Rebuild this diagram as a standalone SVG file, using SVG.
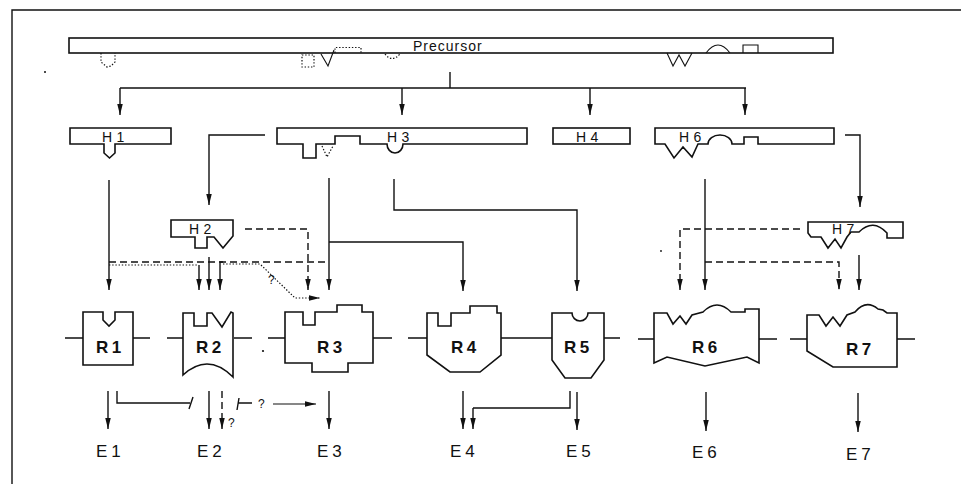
<svg xmlns="http://www.w3.org/2000/svg" width="961" height="484" viewBox="0 0 961 484">
<defs>
<style>
.bg{fill:#fff}
.box{fill:#fff;stroke:#111;stroke-width:1.6;stroke-linejoin:miter}
.ln{fill:none;stroke:#111;stroke-width:1.4}
.thin{fill:none;stroke:#111;stroke-width:1.1}
.dash{stroke-dasharray:7 4}
.dot{stroke-dasharray:1.4 1.8;stroke-width:1.2}
.arr{marker-end:url(#ah)}
.t{font-family:"Liberation Sans",Arial,sans-serif;fill:#111}
.h{font-size:14px;letter-spacing:4.5px}
.r{font-size:17px;font-weight:bold;letter-spacing:3.5px}
.e{font-size:17px;letter-spacing:4px}
.q{font-size:12px}
</style>
<marker id="ah" markerUnits="userSpaceOnUse" markerWidth="12" markerHeight="6" refX="11" refY="2.75" orient="auto">
<path d="M0,0 L11,2.75 L0,5.5 Z" fill="#111"/>
</marker>
</defs>
<rect class="bg" x="0" y="0" width="961" height="484"/>
<path class="ln" d="M12,484 V10 H961"/>
<g id="specks" fill="#111">
<circle cx="45" cy="72" r="1"/>
<circle cx="263" cy="351" r="1.1"/>
<circle cx="661" cy="251" r="0.9"/>
</g>

<g id="precursor">
<rect class="box" x="69" y="38" width="764" height="15"/>
<text class="t" x="413" y="50.5" style="font-size:14px;letter-spacing:1px">Precursor</text>
<path class="thin dot" d="M101,53 V62 L107,67 L111,66 L115,62 V53"/>
<rect class="thin dot" x="302" y="55" width="12" height="12"/>
<path class="thin" d="M321,54 L328,66 L334,50"/>
<path class="thin dot" d="M335,53 V47.5 H361 V53"/>
<path class="thin dot" d="M385,54 Q392,63 400,54"/>
<path class="thin" d="M667,53 L673,66 L679,55 L685,66 L692,53"/>
<path class="thin" d="M706,53 Q718,37 730,53"/>
<path class="thin" d="M743,53 V45 H758 V53"/>
</g>

<g id="H1">
<path class="box" d="M70,128 H171 V144 H115 V153 L109.5,158 L104,153 V144 H70 Z"/>
<text class="t h" x="102" y="142">H1</text>
</g>
<g id="H2">
<path class="box" d="M171,220 H233 V236 L223,248 L214,237 H207 V248 H195 V237 H171 Z"/>
<text class="t h" x="189" y="234">H2</text>
</g>
<g id="H3">
<path class="box" d="M277,128 H527 V144 H403 A8,9 0 0 1 387,144 H360 V136 H335 V144 H316 V158 H303 V144 H277 Z"/>
<path class="thin dot" d="M322,146 L327,157 L333,146"/>
<text class="t h" x="387" y="142">H3</text>
</g>
<g id="H4">
<rect class="box" x="553" y="128" width="77" height="16"/>
<text class="t h" x="576" y="142">H4</text>
</g>
<g id="H6">
<path class="box" d="M655,128 H834 V144 H758 V137 H744 V144 H732 A12,9 0 0 0 708,144 H698 L692,157 L683,147 L674,158 L665,144 H655 Z"/>
<text class="t h" x="679" y="142">H6</text>
</g>
<g id="H7">
<path class="box" d="M808,222 H903 V238 H887 V233 Q873,218 859,232 H851 L847,237 L841,248 L835,239 L828,248 L821,237 H811 L808,233 Z"/>
<text class="t h" x="832" y="234">H7</text>
</g>

<g id="R1">
<path class="box" d="M83,312 H103 V320 L109,326 L115,320 V312 H133 V365 H83 Z"/>
<text class="t r" x="96" y="353">R1</text>
</g>
<g id="R2">
<path class="box" d="M183,313 H194 V326 H207 V313 H212 L222,327 L231,312 L233,313 V377 Q208,352 183,375 Z"/>
<text class="t r" x="196" y="353">R2</text>
</g>
<g id="R3">
<path class="box" d="M285,312 H303 V325 H315 V312 H337 V305 H362 V312 H373 V363 H348 V372 H312 V363 H285 Z"/>
<text class="t r" x="317" y="353">R3</text>
</g>
<g id="R4">
<path class="box" d="M427,313 H438 V326 H451 V313 H470 V306 H497 V313 H501 V355 L480,372 H450 L427,355 Z"/>
<text class="t r" x="451" y="353">R4</text>
</g>
<g id="R5">
<path class="box" d="M552,313 H572 A8,8 0 0 0 588,313 H604 V360 L591,378 H565 L552,360 Z"/>
<text class="t r" x="564" y="353">R5</text>
</g>
<g id="R6">
<path class="box" d="M654,313 H667 L673,324 L680,316 L686,324 L692,315 L703,312 Q717,298 731,312 H745 V309 H759 V363 L747,357 L705,366 L667,357 L654,363 Z"/>
<text class="t r" x="692" y="353">R6</text>
</g>
<g id="R7">
<path class="box" d="M807,315 H819 L826,326 L833,317 L840,326 L847,315 L855,312 Q866,299 878,309 L883,310 L887,313 H897 V367 H833 L807,351 Z"/>
<text class="t r" x="846" y="355">R7</text>
</g>

<g id="E1"><text class="t e" x="96" y="457">E1</text></g>
<g id="E2"><text class="t e" x="197" y="457">E2</text></g>
<g id="E3"><text class="t e" x="317" y="457">E3</text></g>
<g id="E4"><text class="t e" x="450" y="457">E4</text></g>
<g id="E5"><text class="t e" x="566" y="457">E5</text></g>
<g id="E6"><text class="t e" x="692" y="458">E6</text></g>
<g id="E7"><text class="t e" x="846" y="460">E7</text></g>

<g id="connectors">
<!-- precursor distribution -->
<path class="ln" d="M450,72 V88 M120,88 H746"/>
<path class="ln arr" d="M120,88 V115"/>
<path class="ln arr" d="M402,88 V115"/>
<path class="ln arr" d="M590,88 V115"/>
<path class="ln arr" d="M745,88 V115"/>
<!-- H level to R level -->
<path class="ln arr" d="M109,180 V290"/>
<path class="ln arr" d="M265,135 H209 V205"/>
<path class="ln dash arr" d="M245,229 H308 V290"/>
<path class="ln arr" d="M329,178 V290"/>
<path class="ln arr" d="M329,242 H463 V291"/>
<path class="ln arr" d="M394,179 V210 H577 V291"/>
<path class="ln arr" d="M845,135 H860 V207"/>
<path class="ln arr" d="M705,179 V290"/>
<path class="ln dash arr" d="M705,262 H839 V290"/>
<path class="ln dash arr" d="M800,229 H680 V290"/>
<path class="ln arr" d="M859,255 V290"/>
<!-- R1/R2/R3 region -->
<path class="ln dash" d="M109,262 H329"/>
<path class="ln dot" d="M109,265 H198"/>
<path class="ln arr" d="M199,265 V290"/>
<path class="ln arr" d="M209,257 V290"/>
<path class="ln arr" d="M223,262 H220 V290"/>
<path class="ln dot arr" d="M223,264 H260 L295,298 H320"/>
<text class="t q" x="268" y="284">?</text>
<!-- R row stubs -->
<path class="ln" d="M65,338 H83 M133,338 H150 M167,338 H183 M234,338 H252 M268,338 H285 M373,338 H392 M408,338 H427 M501,338 H552 M604,338 H620 M638,339 H654 M759,339 H777 M790,339 H807 M897,339 H915"/>
<!-- R level to E level -->
<path class="ln arr" d="M108,391 V429"/>
<path class="ln" d="M117,391 V403 H190 M189,409 L193,397"/>
<path class="ln arr" d="M209,391 V429"/>
<path class="ln dash arr" d="M222,391 V429"/>
<text class="t q" x="228" y="427">?</text>
<path class="ln" d="M237,410 L239,398 M238,403 H252"/>
<text class="t q" x="258" y="408">?</text>
<path class="thin arr" d="M273,404 H316"/>
<path class="ln arr" d="M329,391 V429"/>
<path class="ln arr" d="M463,391 V429"/>
<path class="ln arr" d="M473,408 V429"/>
<path class="ln" d="M570,391 V408 H473"/>
<path class="ln arr" d="M577,392 V430"/>
<path class="ln arr" d="M706,392 V431"/>
<path class="ln arr" d="M858,393 V432"/>
</g>
</svg>
